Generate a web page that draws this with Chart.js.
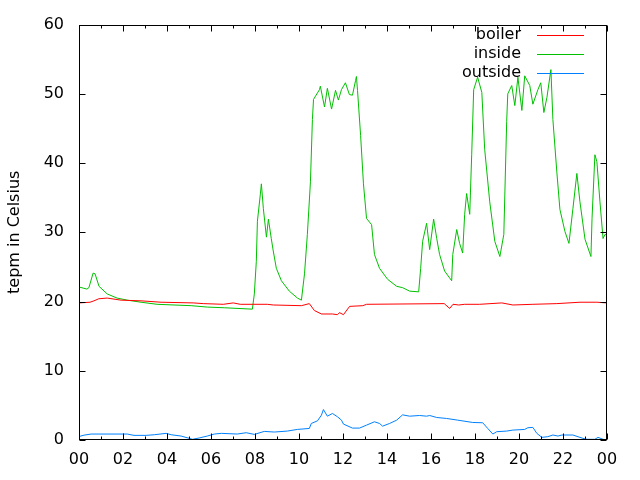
<!DOCTYPE html>
<html>
<head>
<meta charset="utf-8">
<script src="https://cdn.jsdelivr.net/npm/chart.js@4/dist/chart.umd.min.js"></script>
<style>
  html, body { margin: 0; padding: 0; background: #fff; }
  #wrap { width: 640px; height: 480px; }
</style>
</head>
<body>
<div id="wrap"><canvas id="chart-temp" width="640" height="480"></canvas></div>
<script>
// ─── Data (hours since midnight → °C) ────────────────────────────────────────
const boilerHours = [0, 0.5, 0.68, 0.9, 1.28, 1.91, 2.82, 3.73, 5.19, 5.65, 6.56, 7.01, 7.33, 8.56, 8.83,
  10.11, 10.47, 10.7, 11.02, 11.52, 11.75, 11.84, 12.02, 12.3, 12.9, 13.07, 16.6, 16.85, 17.0, 17.26,
  17.53, 18.21, 19.22, 19.72, 20.63, 21.72, 22.77, 23.54, 24];
const boilerTemps = [19.8, 19.9, 20.1, 20.4, 20.5, 20.2, 20.1, 19.9, 19.8, 19.7, 19.6, 19.8, 19.6, 19.6, 19.5,
  19.4, 19.7, 18.7, 18.2, 18.2, 18.1, 18.4, 18.1, 19.3, 19.4, 19.6, 19.7, 19.0, 19.6, 19.5,
  19.6, 19.6, 19.8, 19.5, 19.6, 19.7, 19.9, 19.9, 19.8];

const insideHours = [0, 0.36, 0.45, 0.64, 0.73, 0.91, 1.28, 1.73, 2.19, 2.82, 3.55, 5.1, 5.83, 6.6, 7.88,
  7.97, 8.06, 8.11, 8.24, 8.29, 8.38, 8.52, 8.61, 8.74, 8.83, 8.97, 9.2, 9.56, 9.93, 10.11,
  10.25, 10.38, 10.52, 10.61, 10.66, 10.93, 10.97, 11.16, 11.29, 11.48, 11.66, 11.79, 11.93, 12.11, 12.29,
  12.43, 12.57, 12.61, 12.66, 12.8, 12.93, 13.07, 13.3, 13.43, 13.66, 14.03, 14.44, 14.71, 15.03, 15.44,
  15.53, 15.62, 15.8, 15.94, 16.12, 16.26, 16.39, 16.62, 16.94, 16.99, 17.17, 17.3, 17.44, 17.53, 17.62,
  17.76, 17.85, 17.94, 18.12, 18.31, 18.44, 18.67, 18.9, 19.13, 19.31, 19.44, 19.49, 19.67, 19.81, 19.95,
  20.13, 20.26, 20.49, 20.63, 20.86, 20.99, 21.13, 21.27, 21.45, 21.54, 21.72, 21.86, 22.09, 22.27, 22.45,
  22.63, 22.77, 23.0, 23.27, 23.32, 23.45, 23.54, 23.68, 23.82, 23.91, 24];
const insideTemps = [22.1, 21.8, 22.0, 24.1, 24.0, 22.2, 21.1, 20.5, 20.2, 19.9, 19.6, 19.4, 19.2, 19.1, 18.9,
  21.1, 25.8, 31.6, 35.4, 37.0, 33.4, 29.3, 31.9, 29.1, 27.3, 24.8, 23.0, 21.5, 20.5, 20.2,
  24.0, 29.7, 37.3, 46.3, 49.2, 50.6, 51.1, 48.1, 50.8, 47.8, 50.5, 49.1, 50.6, 51.6, 49.9,
  49.8, 51.9, 52.5, 50.5, 44.0, 37.0, 32.0, 31.1, 26.8, 24.8, 23.2, 22.2, 22.0, 21.5, 21.4,
  24.8, 28.7, 31.3, 27.5, 31.9, 29.1, 26.8, 24.4, 23.0, 26.8, 30.4, 28.4, 27.0, 32.6, 35.6,
  32.6, 41.2, 50.6, 52.4, 50.2, 42.0, 34.4, 28.7, 26.5, 29.7, 46.0, 50.0, 51.2, 48.3, 52.4,
  47.6, 52.6, 51.2, 48.5, 50.6, 51.6, 47.3, 49.5, 53.5, 46.3, 38.7, 33.3, 30.1, 28.4, 33.4,
  38.5, 34.4, 29.0, 26.5, 32.0, 41.2, 40.2, 34.4, 29.1, 29.7, 29.7];

const outsideHours = [0, 0.23, 0.55, 2.19, 2.5, 3.05, 3.42, 3.96, 4.19, 4.64, 5.01, 5.15, 5.46, 5.83, 6.15,
  6.47, 7.19, 7.6, 7.97, 8.42, 8.88, 9.47, 9.93, 10.47, 10.56, 10.84, 11.02, 11.11, 11.29, 11.52,
  11.75, 11.93, 12.02, 12.43, 12.75, 13.07, 13.43, 13.66, 13.8, 14.12, 14.44, 14.71, 15.03, 15.48, 15.8,
  15.94, 16.26, 16.71, 17.21, 17.9, 18.35, 18.58, 18.81, 18.99, 19.44, 19.72, 20.26, 20.4, 20.63, 20.81,
  21.04, 21.31, 21.54, 21.77, 21.95, 22.45, 22.9, 23.09, 23.45, 23.59, 23.82, 24];
const outsideTemps = [0.5, 0.7, 0.86, 0.86, 0.67, 0.67, 0.76, 0.96, 0.76, 0.57, 0.24, 0.1, 0.29, 0.57, 0.86,
  0.96, 0.86, 1.05, 0.81, 1.24, 1.15, 1.29, 1.53, 1.67, 2.39, 2.77, 3.59, 4.4, 3.44, 3.83,
  3.35, 2.87, 2.3, 1.72, 1.72, 2.15, 2.63, 2.39, 2.0, 2.39, 2.87, 3.63, 3.44, 3.54, 3.44,
  3.54, 3.25, 3.11, 2.87, 2.53, 2.49, 1.67, 0.86, 1.2, 1.29, 1.43, 1.53, 1.77, 1.82, 0.96,
  0.38, 0.48, 0.72, 0.57, 0.72, 0.72, 0.24, 0.1, 0.1, 0.38, 0.1, 0];

const seriesNames  = ['boiler', 'inside', 'outside'];
const seriesColors = ['#ff0000', '#00c000', '#0080ff'];
const yTickValues  = [0, 10, 20, 30, 40, 50, 60];
const yAxisTitle   = 'tepm in Celsius';

// ─── Helpers ──────────────────────────────────────────────────────────────────
const FONT = '"DejaVu Sans", sans-serif';

function pares(horas, valores) {
  return horas.map((h, i) => ({ x: h, y: valores[i] }));
}

function rotuloHora(v) {
  return String(Math.round(v) % 24).padStart(2, '0');
}

// gnuplot-style frame: border, inward ticks on all sides, key at top right
const molduraGnuplot = {
  id: 'molduraGnuplot',
  afterDraw(chart) {
    const { ctx, chartArea: a, scales } = chart;
    const L = Math.round(a.left) + 0.5, R = Math.round(a.right) - 0.5;
    const T = Math.round(a.top) + 0.5, B = Math.round(a.bottom) - 0.5;
    ctx.save();
    ctx.strokeStyle = '#000';
    ctx.lineWidth = 1;
    ctx.strokeRect(L, T, R - L, B - T);

    ctx.beginPath();
    yTickValues.forEach(v => {
      const y = Math.round(scales.y.getPixelForValue(v)) + 0.5;
      ctx.moveTo(L, y); ctx.lineTo(L + 6, y);
      ctx.moveTo(R, y); ctx.lineTo(R - 6, y);
    });
    for (let h = 0; h <= 24; h++) {
      const x = Math.round(scales.x.getPixelForValue(h)) + 0.5;
      const len = h % 2 === 0 ? 6 : 3;
      ctx.moveTo(x, B); ctx.lineTo(x, B - len);
      ctx.moveTo(x, T); ctx.lineTo(x, T + len);
    }
    ctx.stroke();

    // key: label right-aligned, then a short sample of the line
    ctx.font = '16px ' + FONT;
    ctx.textAlign = 'right';
    ctx.textBaseline = 'middle';
    seriesNames.forEach((nome, i) => {
      const y = 35 + i * 19;
      ctx.fillStyle = '#000';
      ctx.fillText(nome, 521, y);
      ctx.fillStyle = seriesColors[i];
      ctx.fillRect(537, y, 47, 1);
    });
    ctx.restore();
  },
};

// ─── Chart ────────────────────────────────────────────────────────────────────
const series = [
  pares(boilerHours, boilerTemps),
  pares(insideHours, insideTemps),
  pares(outsideHours, outsideTemps),
];

new Chart(document.getElementById('chart-temp').getContext('2d'), {
  type: 'line',
  data: {
    datasets: series.map((data, i) => ({
      label: seriesNames[i],
      data,
      borderColor: seriesColors[i],
      borderWidth: 1,
      pointRadius: 0,
      tension: 0,
      fill: false,
    })),
  },
  options: {
    responsive: false,
    animation: false,
    events: [],
    layout: { padding: { top: 22, right: 33, left: 0, bottom: 0 } },
    plugins: { legend: { display: false }, tooltip: { enabled: false } },
    scales: {
      x: {
        type: 'linear', min: 0, max: 24,
        grid: { display: false, drawTicks: false },
        border: { display: false },
        ticks: { stepSize: 2, padding: 10, color: '#000', font: { family: FONT, size: 16 },
                 callback: rotuloHora, maxRotation: 0 },
        afterFit: s => { s.height = 40; },
      },
      y: {
        min: 0, max: 60,
        grid: { display: false, drawTicks: false },
        border: { display: false },
        ticks: { stepSize: 10, padding: 15, color: '#000', font: { family: FONT, size: 16 } },
        title: { display: true, text: yAxisTitle, color: '#000', padding: { top: 5, bottom: 0 },
                 font: { family: FONT, size: 16 } },
        afterFit: s => { s.width = 79; },
      },
    },
  },
  plugins: [molduraGnuplot],
});
</script>
</body>
</html>
